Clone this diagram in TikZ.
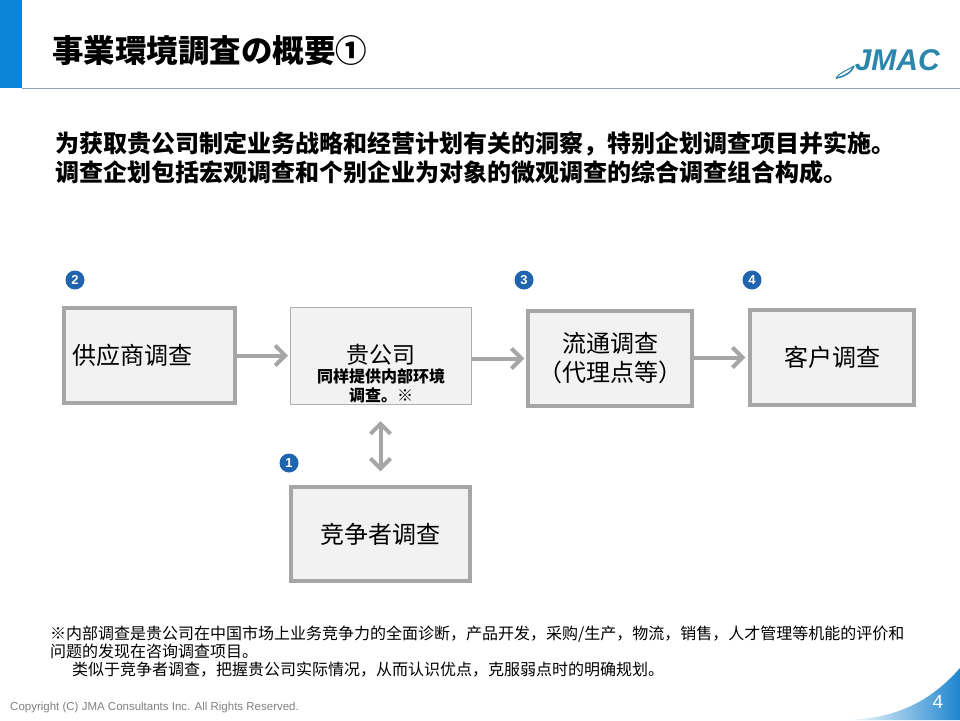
\documentclass[tikz,border=0pt]{standalone}
\usepackage{fontspec}
\setmainfont{Liberation Sans}
\newfontfamily\cjk{Noto Sans CJK SC}
\newfontfamily\jp{Noto Sans CJK JP}
\usetikzlibrary{arrows.meta}

\definecolor{boxgray}{HTML}{A6A6A6}
\definecolor{boxfill}{HTML}{F2F2F2}
\definecolor{numblue}{HTML}{1F64AE}
\definecolor{jmac}{HTML}{2A86AC}
\definecolor{rulegray}{HTML}{8EA3B5}
\definecolor{barblue}{HTML}{0B84D8}
\definecolor{swblue}{HTML}{1E86CF}

\begin{document}
\begin{tikzpicture}
  [x=1pt,y=-1pt,
   box/.style={draw=boxgray,line width=3.5pt,fill=boxfill,inner sep=0pt,align=center,
     font=\cjk\fontsize{24}{29}\selectfont},
   arr/.style={draw=boxgray,line width=4pt,-{Straight Barb[length=10pt,width=20pt]}},
   num/.style={circle,fill=numblue,text=white,inner sep=0pt,minimum size=19pt,
     font=\bfseries\fontsize{13}{13}\selectfont}]
  \useasboundingbox (0,0) rectangle (960,720);

  % header
  \fill[barblue] (0,0) rectangle (22,88);
  \draw[rulegray,line width=1.5pt] (22,88.5) -- (960,88.5);
  \node[anchor=west,inner sep=0pt,font=\jp\bfseries\fontsize{31.5}{36}\selectfont] (title) at (52,51) {事業環境調査の概要①};
  \node[anchor=east,inner sep=0pt,text=jmac,font=\bfseries\itshape\fontsize{30}{36}\selectfont] (logo) at (940,60) {JMAC};
  \draw[jmac,line width=1.6pt] (836,78) .. controls (844,77) and (852,72) .. (854,66);
  \draw[jmac,line width=1pt] (836,78) .. controls (840,72) and (848,70) .. (854,66);

  % lead text
  \node[anchor=west,inner sep=0pt,align=left,font=\cjk\bfseries\fontsize{24}{29}\selectfont] (lead) at (55,157.5)
    {为获取贵公司制定业务战略和经营计划有关的洞察，特别企划调查项目并实施。\\
     调查企划包括宏观调查和个别企业为对象的微观调查的综合调查组合构成。};

  % boxes
  \node[box,minimum width=171pt,minimum height=95pt,text width=155pt,align=left] (sup) at (149.5,355.5) {供应商调查};
  \node[box,draw=boxgray!90,line width=1pt,minimum width=181pt,minimum height=97pt] (co) at (381,356) {};
  \node[align=center,inner sep=0pt,font=\cjk\fontsize{16}{19}\selectfont] (cotext) at (381,374)
    {{\fontsize{23}{26}\selectfont 贵公司}\\ \bfseries 同样提供内部环境\\ \bfseries 调查。※};
  \node[box,minimum width=164pt,minimum height=95pt] (dist) at (610,358.5) {流通调查\\（代理点等）};
  \node[box,minimum width=164pt,minimum height=95pt] (cust) at (832,357.5) {客户调查};
  \node[box,minimum width=179pt,minimum height=94pt] (comp) at (380.5,534) {竞争者调查};

  % numbers
  \node[num] (n2) at (75,280) {2};
  \node[num] (n3) at (524,280) {3};
  \node[num] (n4) at (752,280) {4};
  \node[num] (n1) at (289,463) {1};

  % arrows
  \draw[arr,shorten >=2pt] (sup.east) -- (sup.east -| co.west);
  \draw[arr,shorten >=2pt] (co.east |- dist.west) -- (dist.west);
  \draw[arr,shorten >=3pt] (dist.east |- cust.west) -- (cust.west);
  \draw[arr,{Straight Barb[length=10pt,width=20pt]}-{Straight Barb[length=10pt,width=20pt]},
    shorten <=16pt,shorten >=14pt] (co.south -| comp.north) -- (comp.north);

  % note
  \node[anchor=west,inner sep=0pt,align=left,font=\cjk\fontsize{16}{18}\selectfont] (note) at (50,652)
    {※内部调查是贵公司在中国市场上业务竞争力的全面诊断，产品开发，采购/生产，物流，销售，人才管理等机能的评价和\\
     问题的发现在咨询调查项目。\\
     \hspace*{22pt}类似于竞争者调查，把握贵公司实际情况，从而认识优点，克服弱点时的明确规划。};

  % footer
  \node[anchor=west,inner sep=0pt,text=gray,font=\fontsize{11.5}{13}\selectfont] (copy) at (10,708)
    {Copyright (C) JMA Consultants Inc. All Rights Reserved.};
  \shade[left color=white,right color=swblue] (845,720) .. controls (895,719) and (930,702) .. (960,668) -- (960,720) -- cycle;
  \node[text=white,inner sep=0pt,font=\fontsize{19}{19}\selectfont] (page) at (938,702) {4};
\end{tikzpicture}
\end{document}
